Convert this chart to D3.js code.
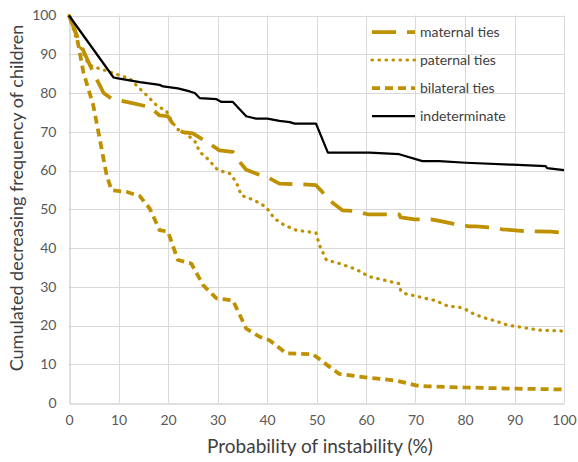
<!DOCTYPE html>
<html>
<head>
<meta charset="utf-8">
<script src="https://cdn.jsdelivr.net/npm/d3@7"></script>
<style>
  html, body { margin: 0; padding: 0; background: #fff; }
  svg { display: block; }
  text { font-family: Lato, "Open Sans", sans-serif; }
</style>
</head>
<body>
<svg id="chart" width="578" height="462"></svg>
<script>
// ---- data ----
const xTicks = [0, 10, 20, 30, 40, 50, 60, 70, 80, 90, 100];
const yTicks = [0, 10, 20, 30, 40, 50, 60, 70, 80, 90, 100];
const seriesNames = ["maternal ties", "paternal ties", "bilateral ties", "indeterminate"];

const maternal = [[0,100],[2,93.5],[5,85],[7,80],[8.5,78.6],[11.6,77.7],[16.3,76.4],[18.3,74.2],[20,74],[21.4,71.2],[23,69.9],[25,69.6],[27.8,67.4],[30.4,65.2],[33.1,64.8],[34.1,62.8],[35.8,60.2],[37.8,59.2],[40.2,58.2],[42.5,56.6],[47.2,56.4],[49.9,56.2],[53.3,51.6],[55.3,49.7],[57.9,49.5],[60.3,48.7],[66.7,48.7],[67,47.9],[69.8,47.4],[73.1,47.4],[74.8,47],[77.5,46.3],[80.8,45.6],[82.2,45.6],[84.9,45.3],[87.6,44.8],[89.6,44.6],[92.3,44.3],[97.3,44.2],[100,43.9]];

const paternal = [[0,100],[1.9,92.3],[2.5,91.4],[3.9,87.5],[4.9,86.7],[6.2,86.3],[8.3,85.4],[9.9,84.7],[12.3,83.7],[14,81.5],[15.7,79.4],[17.7,76.8],[19.7,75.3],[20.7,72.9],[21.7,70.8],[23.7,69.5],[25.5,67.4],[26.4,64.8],[27.8,63.3],[29.8,60.5],[30.1,60.1],[32.5,59.2],[33.8,57],[34.8,53.6],[37.5,52.3],[39.8,50.6],[41.5,47.6],[43.5,45.9],[45.9,44.6],[49.9,43.9],[50.6,40.7],[52,36.9],[54.6,36],[58,34.5],[60.7,32.6],[64.7,31.4],[66.7,30.8],[67,29.1],[67.7,28.3],[71.4,27.2],[74.1,26.4],[76.5,25],[78.9,24.7],[80.2,24.1],[81.6,23.1],[83.6,22.1],[86.3,21.1],[88.6,20.1],[91.6,19.5],[95,18.8],[99.3,18.6],[100,18.5]];

const bilateral = [[0,100],[0.9,97.4],[1.6,94.4],[2.9,85.4],[4.9,76.8],[6.2,68.2],[7.6,58.8],[8.6,54.9],[11.6,54.5],[14.3,53.4],[16.3,50.2],[18.3,44.6],[20,44.2],[22,36.9],[24.7,36],[27.1,30.4],[29.8,27],[33.1,26.5],[35.8,19.2],[38.5,17.1],[40.5,16.2],[43.9,12.8],[49.3,12.6],[51.3,10.6],[54.6,7.5],[58.7,6.8],[60.6,6.5],[66,5.8],[70.3,4.5],[72.5,4.3],[80,4],[90.4,3.7],[100,3.5]];

const indeterminate = [[0,100],[9,84],[9.9,83.8],[14.3,82.8],[18.3,82.1],[19,81.7],[22,81.2],[24.4,80.4],[25.4,80],[26.4,78.7],[29.8,78.4],[30.8,77.7],[33.1,77.7],[35.8,74],[37.8,73.4],[40.1,73.4],[42.5,72.8],[44.6,72.5],[45.6,72.1],[49.9,72.1],[52.3,64.6],[60.7,64.6],[66.7,64.2],[71.4,62.4],[74.8,62.4],[80.2,62],[89.5,61.5],[96.3,61.1],[96.6,60.6],[100,60.1]];

// ---- styles ----
const gold = "#BF9000";
const styles = [
  { data: maternal, color: gold, width: 3.75, dash: "24,11", cap: "butt" },
  { data: paternal, color: gold, width: 3.2, dash: "0.5,6.5", cap: "round" },
  { data: bilateral, color: gold, width: 3.75, dash: "8,5", cap: "butt" },
  { data: indeterminate, color: "#000000", width: 2.25, dash: null, cap: "butt" }
];

const svg = d3.select("#chart");
const x = d3.scaleLinear().domain([0, 100]).range([69, 564]);
const y = d3.scaleLinear().domain([0, 100]).range([403, 15.5]);

// gridlines
const grid = svg.append("g");
grid.selectAll("line.h").data(yTicks.filter(d => d > 0)).join("line")
  .attr("x1", x(0)).attr("x2", x(100))
  .attr("y1", d => Math.round(y(d)) + 0.5).attr("y2", d => Math.round(y(d)) + 0.5)
  .attr("stroke", "#D9D9D9").attr("stroke-width", 1);
grid.selectAll("line.v").data(xTicks.filter(d => d > 0)).join("line")
  .attr("y1", y(0)).attr("y2", y(100))
  .attr("x1", d => Math.round(x(d)) + 0.5).attr("x2", d => Math.round(x(d)) + 0.5)
  .attr("stroke", "#D9D9D9").attr("stroke-width", 1);

// axes
const xAxis = d3.axisBottom(x).tickValues(xTicks).tickSize(0).tickPadding(12);
const yAxis = d3.axisLeft(y).tickValues(yTicks).tickSize(0).tickPadding(13);
const gx = svg.append("g").attr("transform", `translate(0,${Math.round(y(0)) + 0.5})`).call(xAxis);
const gy = svg.append("g").attr("transform", `translate(${Math.round(x(0)) + 0.5},0)`).call(yAxis);
[gx, gy].forEach(g => {
  g.select(".domain").attr("stroke", "#BFBFBF").attr("stroke-width", 1);
  g.selectAll("text").attr("fill", "#595959").style("font-size", "14px");
});

// series
const line = d3.line().x(d => x(d[0])).y(d => y(d[1])).curve(d3.curveLinear);
styles.forEach(s => {
  svg.append("path").datum(s.data)
    .attr("d", line)
    .attr("fill", "none")
    .attr("stroke", s.color)
    .attr("stroke-width", s.width)
    .attr("stroke-linecap", s.cap)
    .attr("stroke-linejoin", "round")
    .attr("stroke-dasharray", s.dash);
});

// legend
const legendY = [32, 60, 88, 116];
const lg = svg.append("g");
styles.forEach((s, i) => {
  lg.append("line")
    .attr("x1", 372).attr("x2", 415)
    .attr("y1", legendY[i]).attr("y2", legendY[i])
    .attr("stroke", s.color).attr("stroke-width", s.width)
    .attr("stroke-linecap", s.cap)
    .attr("stroke-dasharray", s.dash);
  lg.append("text")
    .attr("x", 420).attr("y", legendY[i]).attr("dy", "0.35em")
    .attr("fill", "#404040").style("font-size", "14px")
    .text(seriesNames[i]);
});

// axis titles
svg.append("text")
  .attr("x", 320).attr("y", 453)
  .attr("text-anchor", "middle").attr("fill", "#404040")
  .style("font-size", "19px")
  .text("Probability of instability (%)");
svg.append("text")
  .attr("transform", "translate(23,198) rotate(-90)")
  .attr("text-anchor", "middle").attr("fill", "#404040")
  .style("font-size", "18px")
  .text("Cumulated decreasing frequency of children");
</script>
</body>
</html>
